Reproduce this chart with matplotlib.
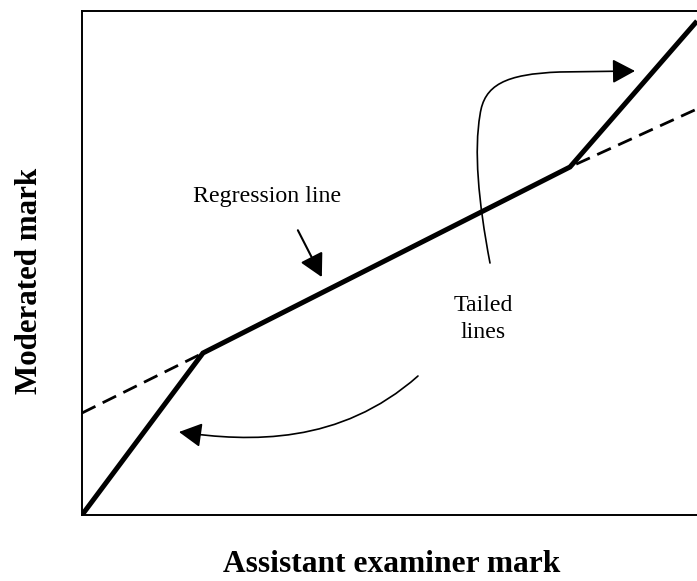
import matplotlib
matplotlib.use("Agg")
import matplotlib.pyplot as plt
from matplotlib.patches import FancyArrowPatch
from matplotlib.path import Path

plt.rcParams['font.family'] = ['Liberation Serif', 'DejaVu Serif']

# Data (axis units 0-100)
tailed_x = [0, 19.67, 79.35, 100]
tailed_y = [0, 32.14, 69.05, 98.0]
reg_x = [0, 19.67, 79.35, 100]
reg_y = [20.24, 32.14, 69.05, 80.56]

x_label = "Assistant examiner mark"
y_label = "Moderated mark"
reg_text = "Regression line"
tail_text = "Tailed\nlines"

W, H = 697, 581
fig = plt.figure(figsize=(W / 100, H / 100), dpi=100)
ax = fig.add_axes([82 / W, (H - 515) / H, 615 / W, 504 / H])
ax.set_xlim(0, 100)
ax.set_ylim(0, 100)
ax.set_xticks([])
ax.set_yticks([])
for s in ['left', 'top', 'bottom']:
    ax.spines[s].set_linewidth(1.4)
ax.spines['right'].set_visible(False)

# regression line (dashed) and tailed line (solid)
reg_line, = ax.plot(reg_x, reg_y, color='black', lw=2.0, zorder=2, clip_on=True)
reg_line.set_dashes((5.4, 2.9))
ax.plot(tailed_x, tailed_y, color='black', lw=3.6, zorder=3,
        solid_joinstyle='miter', solid_capstyle='butt')

# Regression line label and arrow
ax.text(30.1, 62.1, reg_text, fontsize=17.2, ha='center', va='baseline')
ax.add_patch(FancyArrowPatch((35.1, 56.5), (39.0, 47.2),
                             arrowstyle='-|>,head_length=14,head_width=7.5',
                             mutation_scale=1, lw=1.5, color='black',
                             shrinkA=0, shrinkB=0, zorder=4))

# Tailed lines label
ax.text(65.2, 38.9, tail_text, fontsize=17.2, ha='center', va='center',
        multialignment='center', linespacing=1.32)

# Upper curved arrow
up_verts = [(66.34, 50.0), (64.39, 62.5), (63.74, 72.4), (64.72, 79.4),
            (65.37, 85.3), (68.78, 87.5), (77.72, 87.9),
            (89.92, 88.1)]
up_codes = [Path.MOVETO, Path.CURVE4, Path.CURVE4, Path.CURVE4,
            Path.CURVE4, Path.CURVE4, Path.CURVE4, Path.LINETO]
ax.add_patch(FancyArrowPatch(path=Path(up_verts, up_codes),
                             arrowstyle='-|>,head_length=14,head_width=7.5',
                             mutation_scale=1, lw=1.2, color='black', zorder=4))

# Lower curved arrow
lo_verts = [(54.63, 27.58), (41.95, 13.89), (27.32, 14.48), (15.77, 16.47)]
lo_codes = [Path.MOVETO, Path.CURVE4, Path.CURVE4, Path.CURVE4]
ax.add_patch(FancyArrowPatch(path=Path(lo_verts, lo_codes),
                             arrowstyle='-|>,head_length=14,head_width=7.5',
                             mutation_scale=1, lw=1.2, color='black', zorder=4))

# Axis labels
ax.set_xlabel(x_label, fontsize=22.7, fontweight='bold', va='baseline')
ax.xaxis.set_label_coords((392 - 82) / 615, (515 - 572) / 504)
ax.set_ylabel(y_label, fontsize=22.3, fontweight='bold', va='center', ha='center')
ax.yaxis.set_label_coords((30 - 82) / 615, (515 - 280.5) / 504)

fig.savefig("out.png", dpi=100)
